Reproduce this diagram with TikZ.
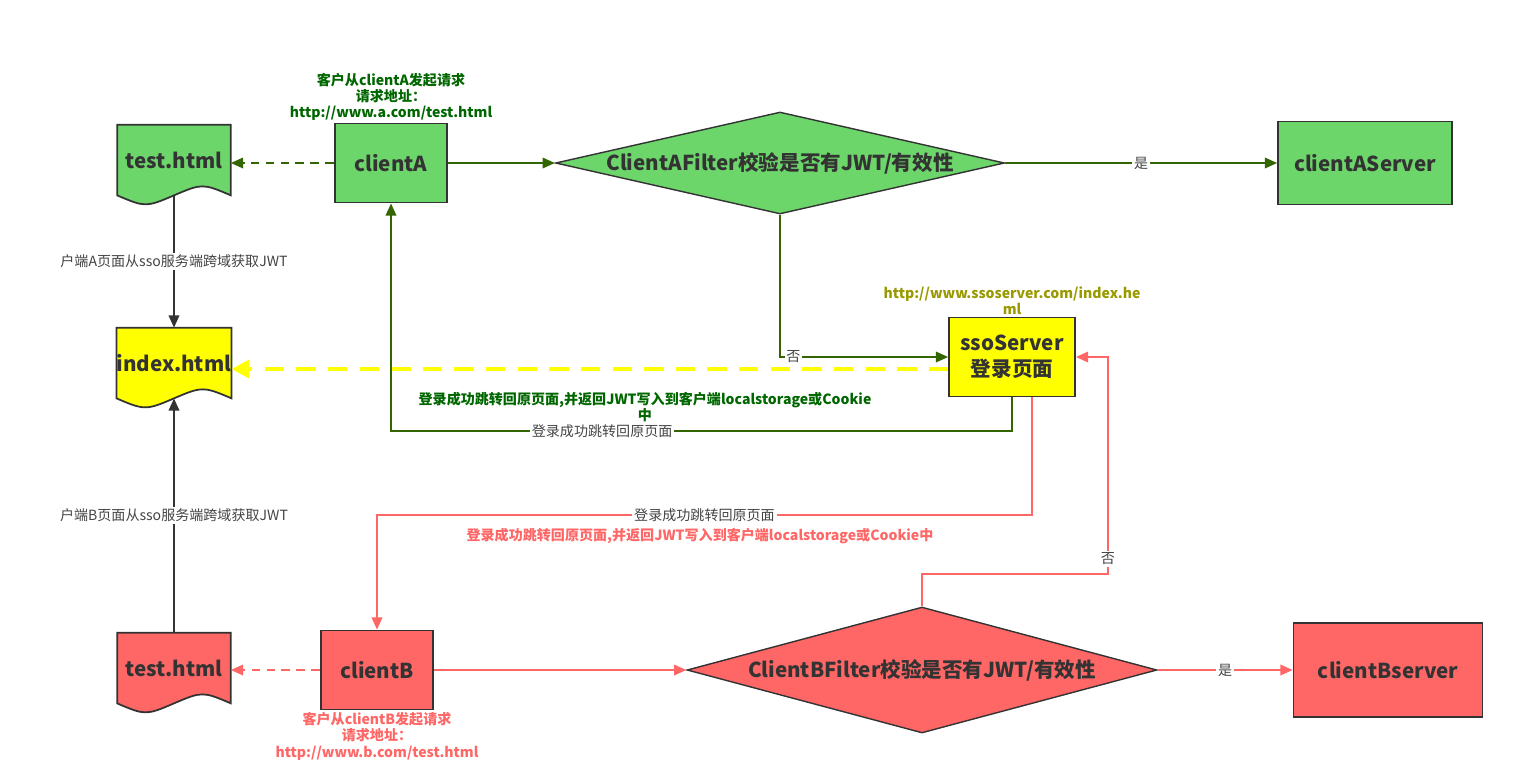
\documentclass[tikz,border=0pt]{standalone}
\usepackage{fontspec}
\setmainfont{Noto Sans CJK SC}
\usepackage{xcolor}
\usetikzlibrary{positioning,shapes.geometric,arrows.meta,backgrounds,calc}

\definecolor{gfill}{HTML}{6DD66B}
\definecolor{gline}{HTML}{336600}
\definecolor{gtext}{HTML}{006600}
\definecolor{rfill}{HTML}{FF6666}
\definecolor{yfill}{HTML}{FFFF00}
\definecolor{olive}{HTML}{999900}
\definecolor{boxline}{HTML}{333333}
\definecolor{labgray}{HTML}{444444}

\newcommand{\docshape}[2]{%
  \draw[draw=boxline, line width=1pt, fill=#2] (#1.north west) -- (#1.north east) -- (#1.south east)
    .. controls +(-28,-12) and +(28,-12) .. (#1.south)
    .. controls +(-28,12) and +(28,12) .. (#1.south west) -- cycle;}

\begin{document}
\begin{tikzpicture}[
  x=0.02cm, y=-0.02cm,
  node distance=2pt,
  box/.style={rectangle, draw=boxline, line width=1pt, minimum width=2.24cm, minimum height=1.58cm, align=center, text=boxline, font=\bfseries\fontsize{11.7}{15}\selectfont},
  doc/.style={rectangle, inner sep=0pt, minimum width=2.26cm, minimum height=1.4cm, text=boxline, font=\bfseries\fontsize{11.7}{15}\selectfont},
  decision/.style={diamond, draw=boxline, line width=0.8pt, inner sep=0pt, text=boxline, font=\bfseries\fontsize{11.7}{15}\selectfont},
  note/.style={align=center, inner sep=1pt, font=\bfseries\fontsize{8}{9.2}\selectfont},
  lbl/.style={fill=white, inner sep=1pt, text=labgray, font=\fontsize{8}{9}\selectfont},
  garrow/.style={->, draw=gline, line width=1.1pt, >={Triangle[length=7pt,width=6pt]}},
  rarrow/.style={->, draw=rfill, line width=1.1pt, >={Triangle[length=7pt,width=6pt]}},
  karrow/.style={->, draw=boxline, line width=1.1pt, >={Triangle[length=7pt,width=6pt]}},
  yarrow/.style={->, draw=yfill, line width=2.8pt, dash pattern=on 11pt off 7pt, >={Triangle[length=10pt,width=10pt]}},
]
  \useasboundingbox (0,0) rectangle (1527,762);

  \node[doc] (testA) at (174,160) {test.html};
  \node[box, fill=gfill] (clientA) at (391,163) {clientA};
  \node[decision, fill=gfill, aspect=4.4, minimum width=8.98cm, minimum height=2.04cm] (filterA) at (780,163) {ClientAFilter校验是否有JWT/有效性};
  \node[box, fill=gfill, minimum width=3.48cm, minimum height=1.66cm] (serverA) at (1365,163) {clientAServer};

  \node[doc] (index) at (174,363) {index.html};
  \node[box, fill=yfill, minimum width=2.52cm] (sso) at (1012,357) {ssoServer\\登录页面};

  \node[doc] (testB) at (174,668) {test.html};
  \node[box, fill=rfill] (clientB) at (377,670) {clientB};
  \node[decision, fill=rfill, aspect=5.2, minimum width=9.4cm, minimum height=2.52cm] (filterB) at (922,670) {ClientBFilter校验是否有JWT/有效性};
  \node[box, fill=rfill, minimum width=3.78cm, minimum height=1.88cm] (serverB) at (1388,670) {clientBserver};

  \begin{scope}[on background layer]
    \docshape{testA}{gfill}
    \docshape{index}{yfill}
    \docshape{testB}{rfill}
  \end{scope}

  \node[note, text=gtext, above=0pt of clientA] (reqA) {客户从clientA发起请求\\请求地址：\\http://www.a.com/test.html};
  \node[note, text=olive, above=0pt of sso] (urlsso) {http://www.ssoserver.com/index.he\\ml};
  \node[note, text=rfill, below=0pt of clientB] (reqB) {客户从clientB发起请求\\请求地址：\\http://www.b.com/test.html};

  \draw[garrow] (clientA) -- (filterA);
  \draw[garrow] (filterA) -- node[lbl] {是} (serverA);
  \draw[garrow, dash pattern=on 5pt off 3.5pt] (clientA.west) -- (clientA.west -| testA.east);
  \draw[karrow] (testA) -- node[lbl] {户端A页面从sso服务端跨域获取JWT} (index);
  \draw[garrow] (filterA.south) |- node[lbl, pos=0.54] {否} (sso.west);

  \coordinate (yA) at ($(sso.west)+(0,12)$);
  \draw[yarrow] (yA) -- (yA -| index.east);

  \coordinate (backA) at ($(sso.south)+(0,34)$);
  \draw[garrow] (sso.south) -- (backA) -| node[lbl, pos=0.33] {登录成功跳转回原页面} (clientA.south);
  \node[note, text=gtext] (jwtA) at (645,407) {登录成功跳转回原页面,并返回JWT写入到客户端localstorage或Cookie\\中};

  \coordinate (outB) at ($(sso.south)+(20,0)$);
  \coordinate (backB) at ($(sso.south)+(20,118)$);
  \draw[rarrow] (outB) -- (backB) -| node[lbl, pos=0.25] {登录成功跳转回原页面} (clientB.north);
  \node[note, text=rfill] (jwtB) at (700,536) {登录成功跳转回原页面,并返回JWT写入到客户端localstorage或Cookie中};

  \coordinate (noB) at (1108,574);
  \draw[rarrow] (filterB.north) |- (noB) |- node[lbl, pos=0.035] {否} (sso.east);

  \draw[karrow] (testB) -- node[lbl] {户端B页面从sso服务端跨域获取JWT} (index);
  \draw[rarrow, dash pattern=on 5pt off 3.5pt] (clientB.west) -- (clientB.west -| testB.east);
  \draw[rarrow] (clientB) -- (filterB);
  \draw[rarrow] (filterB) -- node[lbl] {是} (serverB);
\end{tikzpicture}
\end{document}
